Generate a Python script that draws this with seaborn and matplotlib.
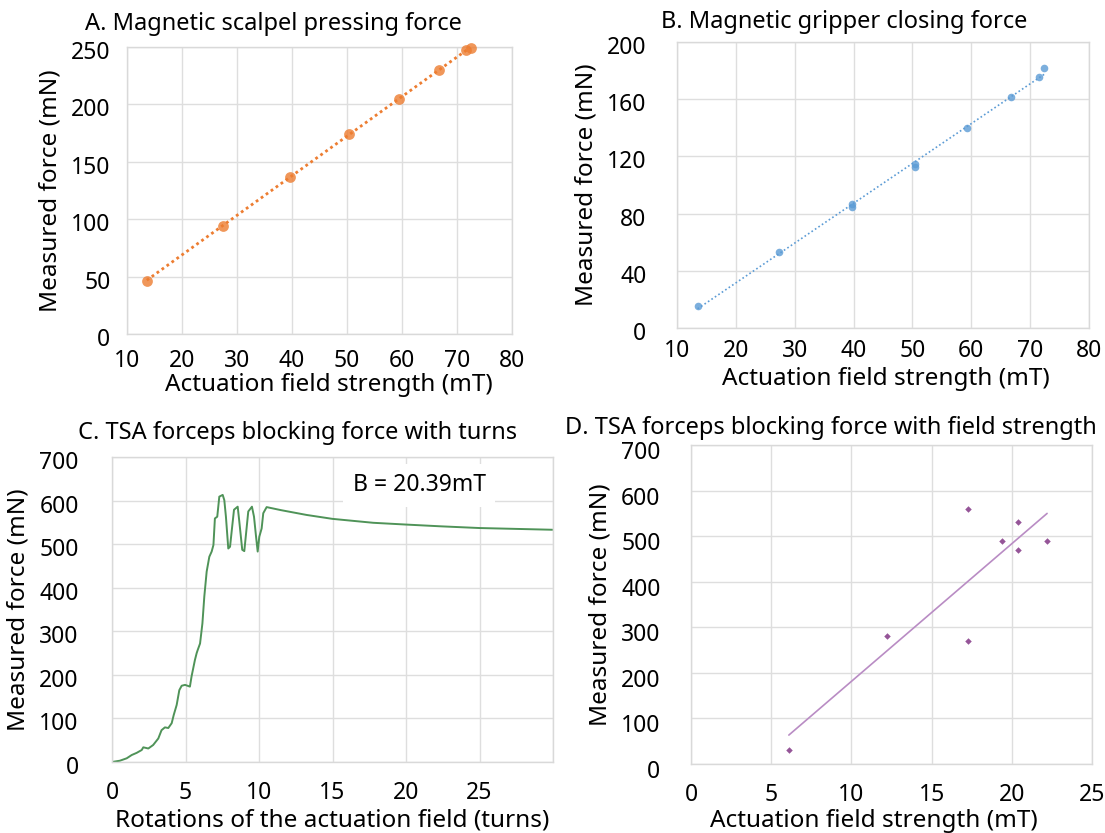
import matplotlib
matplotlib.use("Agg")
import matplotlib.pyplot as plt
import matplotlib.transforms as mtransforms
import seaborn as sns
import numpy as np
import pandas as pd

# A. scalpel pressing force
a_field = [13.6, 27.4, 39.7, 50.4, 59.4, 66.7, 71.6, 72.6]
a_force = [46.5, 94.5, 137, 174, 205, 230, 247.5, 249]

# B. gripper closing force
b_field = [13.5, 27.3, 39.7, 39.7, 50.4, 50.4, 59.3, 66.7, 71.5, 72.4]
b_force = [15.6, 52.9, 87, 84.6, 114.5, 112.4, 140, 161.3, 175.3, 181.8]

c_turns = [0, 0.54, 1.0, 1.34, 1.68, 2.02, 2.13, 2.47, 2.8, 3.15, 3.37, 3.6,
           3.83, 4.06, 4.2, 4.4, 4.58, 4.74, 4.97, 5.3, 5.41, 5.64, 5.76, 5.83,
           5.99, 6.15, 6.28, 6.44, 6.62, 6.78, 6.9, 7.0, 7.16, 7.3, 7.53, 7.64,
           7.75, 7.91, 8.03, 8.14, 8.3, 8.55, 8.66, 8.86, 9.0, 9.11, 9.27, 9.52,
           9.66, 9.8, 9.91, 10.02, 10.18, 10.29, 10.52, 11.5, 13.24, 15.0, 17.77,
           19.97, 22.3, 24.98, 29.98]
c_force = [0, 3, 8.5, 16, 21, 27.5, 33.7, 31, 39, 54, 73, 79.5,
           78, 89, 108, 131, 165, 175, 177, 173, 196, 234, 250, 257,
           272, 318, 380, 437, 471, 483, 498, 559, 563, 609, 613, 601,
           563, 490, 494, 529, 579, 586, 552, 487, 484, 521, 575, 586,
           563, 517, 483, 517, 536, 571, 585, 578, 567, 558, 549,
           545, 541, 537, 533]

# D. blocking force vs field strength
d_field = [6.1, 12.2, 17.3, 17.3, 19.4, 20.4, 20.4, 22.2]
d_force = [30, 280, 560, 270, 490, 531, 470, 490]

sns.set_theme(style="whitegrid")
plt.rcParams["font.family"] = ["Noto Sans", "DejaVu Sans"]
plt.rcParams["axes.edgecolor"] = "#d9d9d9"
plt.rcParams["grid.color"] = "#dedede"
plt.rcParams["grid.linewidth"] = 1.0
plt.rcParams["text.color"] = "black"
plt.rcParams["axes.labelcolor"] = "black"

W, H = 1105, 833
fig = plt.figure(figsize=(W / 100, H / 100), dpi=100)
fig.patch.set_facecolor("white")


def box(x0, y0, x1, y1):
    return [x0 / W, 1 - y1 / H, (x1 - x0) / W, (y1 - y0) / H]


FS = 16.5   # ticks
LFS = 17.5  # axis labels
TFS = 17    # titles


def style(ax, ypad, xpad, ydrop=0):
    ax.tick_params(axis="y", labelsize=FS, pad=ypad, length=0, colors="black")
    ax.tick_params(axis="x", labelsize=FS, pad=xpad, length=0, colors="black")
    for s in ax.spines.values():
        s.set_color("#d9d9d9")
        s.set_linewidth(1.0)
    ax.set_facecolor("white")
    if ydrop:
        off = mtransforms.ScaledTranslation(0, -ydrop / 100, fig.dpi_scale_trans)
        for lab in ax.get_yticklabels():
            lab.set_transform(lab.get_transform() + off)


# ---- A
axA = fig.add_axes(box(127, 47, 512, 334))
sns.regplot(x=a_field, y=a_force, ax=axA, ci=None, color="#ED7D31",
            scatter_kws=dict(s=60, clip_on=False, linewidths=0, zorder=4),
            line_kws=dict(ls=(0, (1, 1.2)), lw=2))
axA.set_xlim(10, 80)
axA.set_ylim(0, 250)
axA.set_xticks(range(10, 81, 10))
axA.set_yticks(range(0, 251, 50))
style(axA, 12, 11, 3)
axA.set_xlabel("Actuation field strength (mT)", fontsize=LFS)
axA.xaxis.set_label_coords(0.525, -0.135)
axA.set_ylabel("Measured force (mN)", fontsize=LFS, labelpad=6)
axA.set_title("A. Magnetic scalpel pressing force", fontsize=TFS, pad=12, x=0.38)

# ---- B
axB = fig.add_axes(box(677, 42, 1089, 328))
sns.regplot(x=b_field, y=b_force, ax=axB, ci=None, color="#5B9BD5",
            scatter_kws=dict(s=30, clip_on=False, linewidths=0, zorder=4),
            line_kws=dict(ls=(0, (1, 1.5)), lw=1.2))
axB.set_xlim(10, 80)
axB.set_ylim(0, 200)
axB.set_xticks(range(10, 81, 10))
axB.set_yticks(range(0, 201, 40))
style(axB, 22, 8, 3)
axB.set_xlabel("Actuation field strength (mT)", fontsize=LFS)
axB.xaxis.set_label_coords(0.507, -0.135)
axB.set_ylabel("Measured force (mN)", fontsize=LFS, labelpad=6)
axB.set_title("B. Magnetic gripper closing force", fontsize=TFS, pad=10, x=0.405)

# ---- C
axC = fig.add_axes(box(112, 457, 553, 762))
sns.lineplot(x=c_turns, y=c_force, ax=axC, color="#4f9358", lw=1.4)
axC.set_xlim(0, 30)
axC.set_ylim(0, 700)
axC.set_xticks(range(0, 26, 5))
axC.set_yticks(range(0, 701, 100))
axC.axvline(30, color="#dedede", lw=1)
style(axC, 24, 14, 3)
axC.set_xlabel("Rotations of the actuation field (turns)", fontsize=LFS, labelpad=2)
axC.set_ylabel("Measured force (mN)", fontsize=LFS, labelpad=6)
axC.set_title("C. TSA forceps blocking force with turns", fontsize=TFS, pad=13,
              x=0.42)
axC.text(20.9, 635, "B = 20.39mT", fontsize=FS, ha="center", va="center",
         bbox=dict(facecolor="white", edgecolor="none", pad=7))

# ---- D
axD = fig.add_axes(box(691, 445, 1092, 764))
sns.regplot(x=d_field, y=d_force, ax=axD, ci=None, color="#7B2A7E",
            marker="D", scatter_kws=dict(s=11, linewidths=0, zorder=4),
            line_kws=dict(color="#b98cc4", lw=1.2))
axD.set_xlim(0, 25)
axD.set_ylim(0, 700)
axD.set_xticks(range(0, 26, 5))
axD.set_yticks(range(0, 701, 100))
style(axD, 22, 14, 5)
axD.set_xlabel("Actuation field strength (mT)", fontsize=LFS)
axD.xaxis.set_label_coords(0.455, -0.14)
axD.set_ylabel("Measured force (mN)", fontsize=LFS, labelpad=6)
axD.set_title("D. TSA forceps blocking force with field strength", fontsize=TFS,
              pad=8, x=0.35)

fig.savefig("out.png", dpi=100, facecolor="white")
